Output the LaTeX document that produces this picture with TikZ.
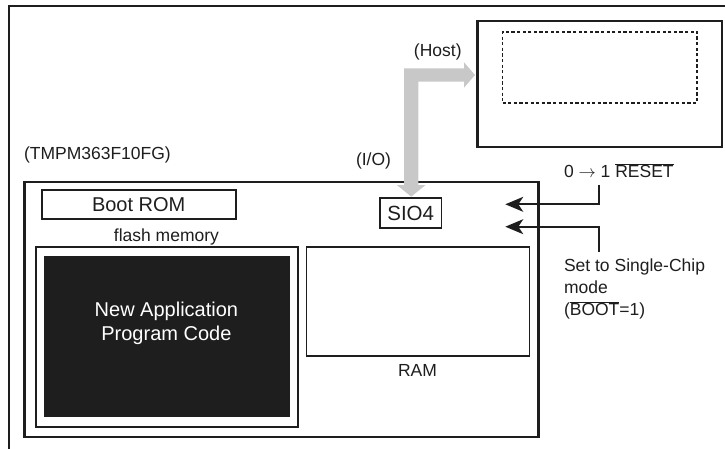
\documentclass[tikz,border=0pt]{standalone}
\usepackage{fontspec}
\setmainfont{Liberation Sans}
\usetikzlibrary{arrows.meta}
\newcommand{\myovl}[1]{$\overline{\mbox{#1}}$}
\definecolor{ink}{HTML}{1E1E1E}
\definecolor{arrowgray}{HTML}{C8C8C8}
\tikzset{
  box/.style={draw=ink, line width=1.7pt, inner sep=0pt, outer sep=0pt},
  thickbox/.style={draw=ink, line width=2.1pt, inner sep=0pt, outer sep=0pt},
  lbl/.style={inner sep=0pt, outer sep=0pt, anchor=base, font=\fontsize{17.5}{22}\selectfont, text=ink},
  biglbl/.style={inner sep=0pt, outer sep=0pt, anchor=base, font=\fontsize{20}{23.3}\selectfont, text=ink},
  sig/.style={draw=ink, line width=1.7pt, -{Stealth[length=18pt,width=15pt,inset=5pt]}}
}
\begin{document}
\begin{tikzpicture}[x=1pt,y=-1pt]
\useasboundingbox (0,0) rectangle (725,448);
% outer frame (cut by the picture edges)
\draw[ink, line width=1.7pt] (9,452) |- (730,6);
% host
\node[thickbox, minimum width=244.5pt, minimum height=126pt] (host) at (599.75,83.7) {};
\node[draw=ink, line width=1.7pt, dash pattern=on 3.2pt off 2.4pt, inner sep=0pt, minimum width=194.5pt, minimum height=71pt] (hostin) at (599.75,67.2) {};
% chip
\node[thickbox, minimum width=514pt, minimum height=255pt] (chip) at (281.5,309.2) {};
\node[box, minimum width=194pt, minimum height=29pt] (bootrom) at (138.7,204.5) {};
\node[biglbl] (bootromt) at (138.7,211.6) {Boot ROM};
\node[lbl] (flashlbl) at (166.4,241) {flash memory};
\node[thickbox, minimum width=262pt, minimum height=179.4pt] (flash) at (167.1,337) {};
\node[fill=ink, inner sep=0pt, minimum width=246pt, minimum height=161.3pt] (code) at (166.9,336.7) {};
\node[biglbl, text=white] (code1) at (166.4,316.7) {New Application};
\node[biglbl, text=white] (code2) at (166.4,340) {Program Code};
\node[box, minimum width=223pt, minimum height=108.4pt] (ram) at (418,301.5) {};
\node[lbl] (ramlbl) at (417.5,376) {RAM};
\node[box, minimum width=61.5pt, minimum height=29.4pt] (sio) at (410.7,213) {};
\node[biglbl, font=\fontsize{20.5}{24}\selectfont] (siot) at (410.7,220) {SIO4};
% labels
\node[lbl] (hostlbl) at (437.8,56) {(Host)};
\node[lbl] (iolbl) at (373.5,165) {(I/O)};
\node[lbl, anchor=base west] (chiplbl) at (24,159) {(TMPM363F10FG)};
\node[lbl, anchor=base west] (resetlbl) at (564,177.7) {0 $\rightarrow$ 1 \myovl{RESET}};
\node[lbl, anchor=base west] (mode1) at (564,271.7) {Set to Single-Chip};
\node[lbl, anchor=base west] (mode2) at (564,293.5) {mode};
\node[lbl, anchor=base west] (mode3) at (564,315.7) {(\myovl{BOOT}=1)};
% gray I/O arrow
\fill[arrowgray] (404,68.3) -- (464,68.3) -- (464,62.3) -- (475,75) -- (464,87.7)
  -- (464,81.7) -- (418.3,81.7) -- (418.3,185) -- (425.6,185) -- (411.2,196.6)
  -- (396.8,185) -- (404,185) -- cycle;
% signal arrows
\coordinate (r1) at (598.7,184.5);
\coordinate (r2) at (505.3,204.3);
\coordinate (b1) at (598.7,251.7);
\coordinate (b2) at (505.3,226.7);
\draw[sig] (r1) |- (r2);
\draw[sig] (b1) |- (b2);
\end{tikzpicture}
\end{document}
